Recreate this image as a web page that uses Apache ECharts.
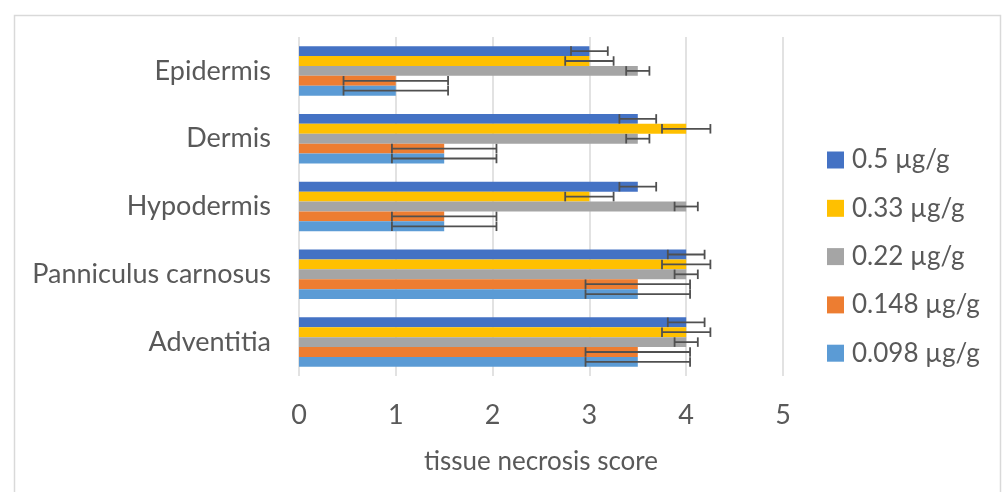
<!DOCTYPE html>
<html>
<head>
<meta charset="utf-8">
<script src="https://cdn.jsdelivr.net/npm/echarts@6/dist/echarts.min.js"></script>
<style>
html,body{margin:0;padding:0;background:#fff;}
#chart{width:1004px;height:492px;}
</style>
</head>
<body>
<div id="chart"></div>
<script>
const categories = ['Epidermis', 'Dermis', 'Hypodermis', 'Panniculus carnosus', 'Adventitia'];
const seriesNames = ['0.5 µg/g', '0.33 µg/g', '0.22 µg/g', '0.148 µg/g', '0.098 µg/g'];
const values05 = [3.0, 3.5, 3.5, 4.0, 4.0];
const values033 = [3.0, 4.0, 3.0, 4.0, 4.0];
const values022 = [3.5, 3.5, 4.0, 4.0, 4.0];
const values0148 = [1.0, 1.5, 1.5, 3.5, 3.5];
const values0098 = [1.0, 1.5, 1.5, 3.5, 3.5];
const errors05 = [0.19, 0.19, 0.19, 0.19, 0.19];
const errors033 = [0.25, 0.25, 0.25, 0.25, 0.25];
const errors022 = [0.12, 0.12, 0.12, 0.12, 0.12];
const errors0148 = [0.54, 0.54, 0.54, 0.54, 0.54];
const errors0098 = [0.54, 0.54, 0.54, 0.54, 0.54];
const xTicks = [0, 1, 2, 3, 4, 5];
const colors = ['#4472C4', '#FFC000', '#A5A5A5', '#ED7D31', '#5B9BD5'];

const allValues = [values05, values033, values022, values0148, values0098];
const allErrors = [errors05, errors033, errors022, errors0148, errors0098];
const FONT = 'Lato';
const TXT = '#595959';
const GAP = 0.27;
const N = allValues.length;

const chart = echarts.init(document.getElementById('chart'), null, {renderer: 'canvas'});

const series = [];
allValues.forEach((vals, i) => {
  series.push({
    name: seriesNames[i],
    type: 'bar',
    data: vals,
    itemStyle: {color: colors[i]},
    barGap: '0%',
    barCategoryGap: (GAP * 100) + '%',
    z: 2
  });
});
allValues.forEach((vals, i) => {
  series.push({
    type: 'custom',
    name: 'err' + i,
    z: 5,
    silent: true,
    data: vals.map((v, k) => [v, k, allErrors[i][k]]),
    encode: {x: 0, y: 1},
    renderItem: function (params, api) {
      const v = api.value(0), k = api.value(1), e = api.value(2);
      const band = api.size([0, 1])[1];
      const total = band * (1 - GAP);
      const bw = total / N;
      const c = api.coord([v, k]);
      const y = c[1] - total / 2 + bw * (i + 0.5);
      const x1 = api.coord([v - e, k])[0];
      const x2 = api.coord([v + e, k])[0];
      const h = bw * 0.48;
      const style = {stroke: '#505050', lineWidth: 1.8};
      return {
        type: 'group',
        children: [
          {type: 'line', shape: {x1: x1, y1: y, x2: x2, y2: y}, style: style},
          {type: 'line', shape: {x1: x1, y1: y - h, x2: x1, y2: y + h}, style: style},
          {type: 'line', shape: {x1: x2, y1: y - h, x2: x2, y2: y + h}, style: style}
        ]
      };
    }
  });
});

chart.setOption({
  animation: false,
  backgroundColor: '#fff',
  graphic: [{
    type: 'rect',
    shape: {x: 14.5, y: 15.5, width: 986, height: 490},
    style: {fill: 'none', stroke: '#d9d9d9', lineWidth: 1.5},
    silent: true
  }],
  grid: {left: 299, right: 221, top: 37, height: 339, containLabel: false},
  xAxis: {
    type: 'value',
    min: xTicks[0],
    max: xTicks[xTicks.length - 1],
    interval: 1,
    name: 'tissue necrosis score',
    nameLocation: 'middle',
    nameGap: 73,
    nameTextStyle: {fontFamily: FONT, fontSize: 26, color: TXT},
    axisLine: {show: false},
    axisTick: {show: false},
    axisLabel: {fontFamily: FONT, fontSize: 27, color: TXT, margin: 26},
    splitLine: {show: true, lineStyle: {color: '#d9d9d9', width: 1.5}}
  },
  yAxis: {
    type: 'category',
    data: categories,
    inverse: true,
    axisLine: {show: false},
    axisTick: {show: false},
    axisLabel: {fontFamily: FONT, fontSize: 27, color: TXT, margin: 28}
  },
  legend: {
    orient: 'vertical',
    left: 827,
    top: 145,
    padding: 0,
    data: seriesNames,
    itemWidth: 17,
    itemHeight: 17,
    itemGap: 18.3,
    icon: 'rect',
    textStyle: {fontFamily: FONT, fontSize: 26, color: TXT, lineHeight: 30, padding: [0, 0, 0, 3]}
  },
  series: series
});
</script>
</body>
</html>
